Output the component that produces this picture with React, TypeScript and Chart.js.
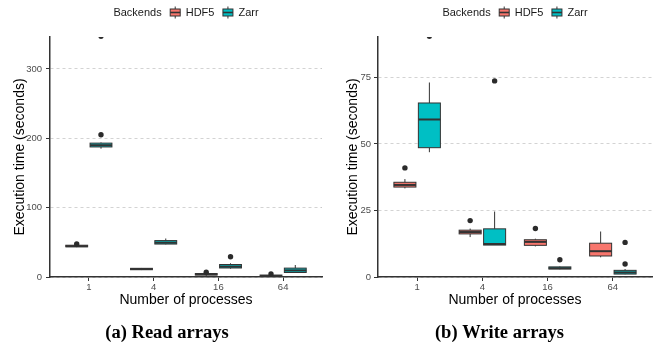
import React, { useEffect, useRef } from "react";
import { Chart, registerables } from "chart.js";

Chart.register(...registerables);

// ---------- data ----------
const processes = ["1", "4", "16", "64"];
const backendNames = ["HDF5", "Zarr"];
const backendColors = ["#F8766D", "#00BFC4"];

const readYTicks = [0, 100, 200, 300];
const writeYTicks = [0, 25, 50, 75];
const readYMax = 346;
const writeYMax = 90.2;

// five-number summaries per process: [lower whisker, Q1, median, Q3, upper whisker]
const readHdf5Boxes = [
  [43, 43.5, 44.5, 45.8, 46.5],
  [10, 10.5, 11.5, 12.5, 13],
  [1.5, 2.8, 4, 5, 5.5],
  [0.2, 0.6, 1.5, 2.8, 3.5],
];
const readZarrBoxes = [
  [185, 187.5, 190, 193, 194],
  [47, 47.5, 49.5, 52.5, 55.5],
  [12, 13, 15, 18, 19.8],
  [6, 6.5, 9.5, 12.8, 17.3],
];
const readHdf5Outliers = [[47.5], [], [6.8], [4.3]];
const readZarrOutliers = [[205, 347], [], [29.3], []];

const writeHdf5Boxes = [
  [33.3, 33.8, 34.6, 35.6, 36.8],
  [15, 16.2, 16.9, 17.6, 18.2],
  [11.5, 11.9, 13.2, 14, 14.4],
  [7.4, 7.9, 9.7, 12.7, 17.1],
];
const writeZarrBoxes = [
  [46.9, 48.6, 59.2, 65.4, 73.1],
  [12, 12, 12.4, 18.1, 24.6],
  [2.9, 3.0, 3.3, 3.8, 4],
  [1.0, 1.1, 1.7, 2.5, 3.0],
];
const writeHdf5Outliers = [[41], [21.2], [18.2], []];
const writeZarrOutliers = [[90.5], [73.7], [6.5], [4.9, 13]];

// ---------- styling ----------
const SANS = "'Liberation Sans', Arial, Helvetica, sans-serif";
const NARROW = "'Liberation Sans Narrow', 'Liberation Sans', Arial, sans-serif";
const SERIF = "'Liberation Serif', 'Times New Roman', serif";
const DARK = "#333333";
const DODGE = 0.1875;
const BOX_W = 0.3375;

type Spec = {
  boxes: number[][][];
  outliers: number[][][];
  yTicks: number[];
  yMax: number;
  padRight: number;
  yTitlePad: number;
  yTickPad: number;
  caption: string;
  captionX: number;
};

const readSpec: Spec = {
  boxes: [readHdf5Boxes, readZarrBoxes],
  outliers: [readHdf5Outliers, readZarrOutliers],
  yTicks: readYTicks,
  yMax: readYMax,
  padRight: 6,
  yTitlePad: 11.6,
  yTickPad: 4,
  caption: "(a) Read arrays",
  captionX: 167,
};

const writeSpec: Spec = {
  boxes: [writeHdf5Boxes, writeZarrBoxes],
  outliers: [writeHdf5Outliers, writeZarrOutliers],
  yTicks: writeYTicks,
  yMax: writeYMax,
  padRight: 1,
  yTitlePad: 16.6,
  yTickPad: 3,
  caption: "(b) Write arrays",
  captionX: 171.5,
};

function drawGlyph(ctx: CanvasRenderingContext2D, cx: number, cy: number, color: string) {
  ctx.save();
  ctx.strokeStyle = DARK;
  ctx.lineWidth = 1;
  ctx.beginPath();
  ctx.moveTo(cx, cy - 6);
  ctx.lineTo(cx, cy + 6);
  ctx.stroke();
  ctx.fillStyle = color;
  ctx.fillRect(cx - 5, cy - 3.5, 10, 7);
  ctx.strokeRect(cx - 5, cy - 3.5, 10, 7);
  ctx.lineWidth = 1.6;
  ctx.beginPath();
  ctx.moveTo(cx - 5, cy);
  ctx.lineTo(cx + 5, cy);
  ctx.stroke();
  ctx.restore();
}

function makePlugin(spec: Spec) {
  return {
    id: "boxplotPanel",
    beforeDatasetsDraw(chart: any) {
      const { ctx, chartArea } = chart;
      const xs = chart.scales.x;
      const ys = chart.scales.y;
      ctx.save();
      ctx.beginPath();
      ctx.rect(chartArea.left, chartArea.top, chartArea.right - chartArea.left, chartArea.bottom - chartArea.top);
      ctx.clip();
      spec.boxes.forEach((series, si) => {
        const off = si === 0 ? -DODGE : DODGE;
        series.forEach((b, gi) => {
          const c = gi + off;
          const x0 = xs.getPixelForValue(c - BOX_W / 2);
          const x1 = xs.getPixelForValue(c + BOX_W / 2);
          const xc = xs.getPixelForValue(c);
          const [lo, q1, med, q3, hi] = b.map((v) => ys.getPixelForValue(v));
          ctx.strokeStyle = DARK;
          ctx.lineWidth = 1;
          ctx.beginPath();
          ctx.moveTo(xc, q3);
          ctx.lineTo(xc, hi);
          ctx.moveTo(xc, q1);
          ctx.lineTo(xc, lo);
          ctx.stroke();
          ctx.fillStyle = backendColors[si];
          ctx.fillRect(x0, q3, x1 - x0, q1 - q3);
          ctx.strokeRect(x0, q3, x1 - x0, q1 - q3);
          ctx.lineWidth = 2;
          ctx.beginPath();
          ctx.moveTo(x0, med);
          ctx.lineTo(x1, med);
          ctx.stroke();
        });
      });
      ctx.restore();
    },
    afterDraw(chart: any) {
      const { ctx, chartArea } = chart;
      ctx.save();
      // legend
      ctx.font = `11px ${SANS}`;
      ctx.textBaseline = "middle";
      ctx.textAlign = "left";
      ctx.fillStyle = "#1a1a1a";
      const title = "Backends";
      const wT = ctx.measureText(title).width;
      const wL = backendNames.map((n) => ctx.measureText(n).width);
      const glyphW = 11;
      const total = wT + 8 + glyphW + 5 + wL[0] + 8 + glyphW + 5 + wL[1];
      let x = (chartArea.left + chartArea.right) / 2 - total / 2;
      const ly = 12.5;
      ctx.fillText(title, x, ly);
      x += wT + 8;
      backendNames.forEach((n, i) => {
        drawGlyph(ctx, x + glyphW / 2, ly, backendColors[i]);
        x += glyphW + 5;
        ctx.fillStyle = "#1a1a1a";
        ctx.font = `11px ${SANS}`;
        ctx.textBaseline = "middle";
        ctx.textAlign = "left";
        ctx.fillText(n, x, ly);
        x += wL[i] + 8;
      });
      // caption
      ctx.font = `bold 18.5px ${SERIF}`;
      ctx.textAlign = "center";
      ctx.textBaseline = "middle";
      ctx.fillStyle = "#000";
      ctx.fillText(spec.caption, spec.captionX, 333);
      ctx.restore();
    },
  };
}

function makeConfig(spec: Spec): any {
  const outlierData: { x: number; y: number }[] = [];
  spec.outliers.forEach((series, si) => {
    const off = si === 0 ? -DODGE : DODGE;
    series.forEach((vals, gi) => {
      vals.forEach((v) => outlierData.push({ x: gi + off, y: v }));
    });
  });
  return {
    type: "scatter",
    data: {
      datasets: [
        {
          data: outlierData,
          pointRadius: 2.7,
          pointBackgroundColor: "#2b2b2b",
          pointBorderWidth: 0,
          clip: 0,
        },
      ],
    },
    options: {
      animation: false,
      responsive: false,
      devicePixelRatio: 1,
      layout: { padding: { left: 0, right: spec.padRight, top: 37, bottom: 28 } },
      plugins: {
        legend: { display: false },
        tooltip: { enabled: false },
        title: { display: false },
      },
      scales: {
        x: {
          type: "linear",
          min: -0.6,
          max: 3.6,
          afterBuildTicks: (s: any) => {
            s.ticks = processes.map((_, i) => ({ value: i }));
          },
          afterFit: (s: any) => {
            s.height = 40;
          },
          ticks: {
            callback: (v: number) => processes[Math.round(v)],
            font: { family: NARROW, size: 9.5 },
            color: "#4d4d4d",
            padding: 1,
            maxRotation: 0,
            autoSkip: false,
          },
          grid: {
            drawOnChartArea: false,
            drawTicks: true,
            tickLength: 4,
            tickColor: DARK,
            tickWidth: 1,
          },
          border: { display: true, color: DARK, width: 1.5 },
          title: {
            display: true,
            text: "Number of processes",
            font: { family: SANS, size: 14 },
            color: "#000",
            padding: { top: 0, bottom: 8 },
          },
        },
        y: {
          type: "linear",
          min: 0,
          max: spec.yMax,
          afterBuildTicks: (s: any) => {
            s.ticks = spec.yTicks.map((v) => ({ value: v }));
          },
          afterFit: (s: any) => {
            s.width = 50;
          },
          ticks: {
            font: { family: NARROW, size: 9.5 },
            color: "#4d4d4d",
            padding: spec.yTickPad,
          },
          grid: {
            color: "#c8c8c8",
            lineWidth: 0.8,
            drawTicks: true,
            tickLength: 4,
            tickColor: DARK,
            tickWidth: 1,
            tickBorderDash: [],
          },
          border: { display: true, color: DARK, width: 1.5, dash: [3, 3] },
          title: {
            display: true,
            text: "Execution time (seconds)",
            font: { family: SANS, size: 14 },
            color: "#000",
            padding: { top: spec.yTitlePad, bottom: 0 },
          },
        },
      },
    },
    plugins: [makePlugin(spec)],
  };
}

function Panel({ spec }: { spec: Spec }) {
  const ref = useRef<HTMLCanvasElement>(null);
  useEffect(() => {
    const chart = new Chart(ref.current as HTMLCanvasElement, makeConfig(spec));
    return () => chart.destroy();
  }, [spec]);
  return (
    <canvas
      ref={ref}
      width={328}
      height={345}
      style={{ display: "block", width: 328, height: 345 }}
    />
  );
}

export default function App() {
  return (
    <div
      style={{
        position: "absolute",
        left: 0,
        top: 0,
        width: 656,
        height: 345,
        display: "flex",
        background: "#ffffff",
        overflow: "hidden",
      }}
    >
      <Panel spec={readSpec} />
      <Panel spec={writeSpec} />
    </div>
  );
}
